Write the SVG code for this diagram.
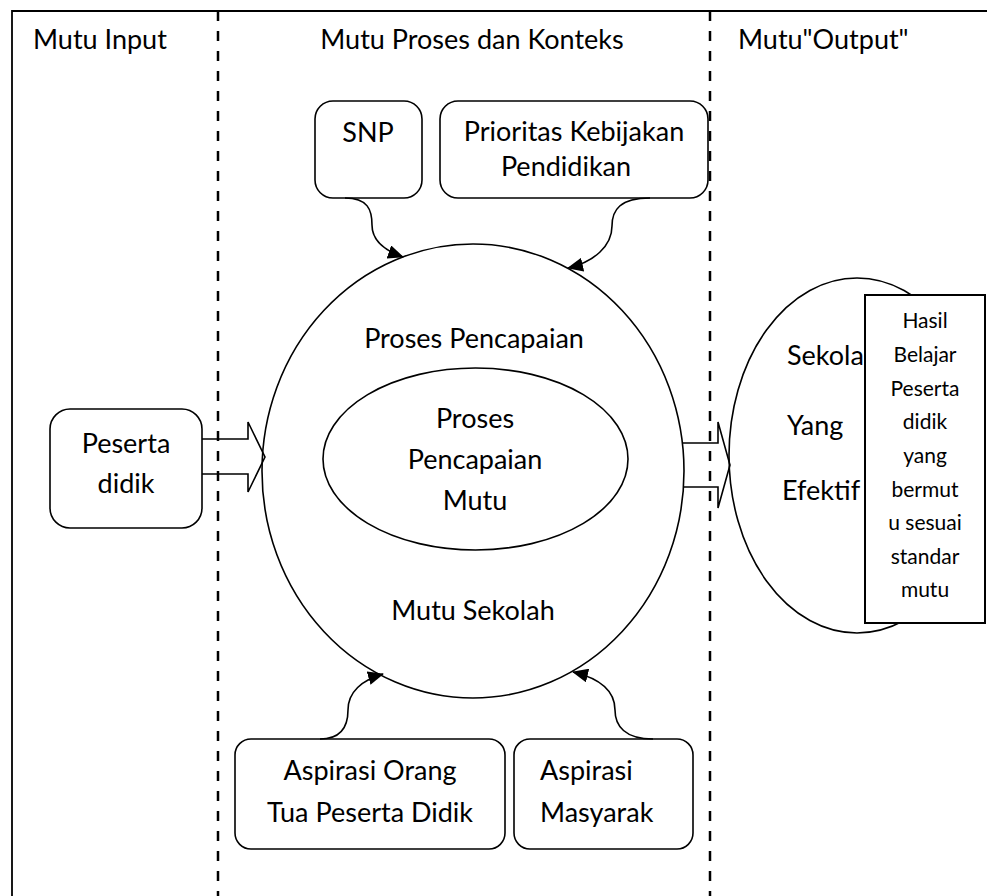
<svg xmlns="http://www.w3.org/2000/svg" width="987" height="896" viewBox="0 0 987 896">
<style>
text{font-family:Lato,"Open Sans","Liberation Sans",sans-serif;font-size:27px;fill:#000}
.c{text-anchor:middle}
.s{font-size:21px}
.box{fill:#fff;stroke:#000;stroke-width:1.6}
.shape{fill:none;stroke:#000;stroke-width:1.6}
.dash{stroke:#000;stroke-width:2.5;stroke-dasharray:10 10;fill:none}
.con{fill:none;stroke:#000;stroke-width:1.6}
</style>
<defs>
<marker id="ahb" viewBox="0 0 16 14" refX="15" refY="7" markerWidth="16" markerHeight="14" markerUnits="userSpaceOnUse" orient="auto">
<path d="M0,0 L16,7 L0,14 z" fill="#000"/>
</marker>
</defs>
<rect width="987" height="896" fill="#fff"/>
<g id="frame">
<path d="M12,896 V11 H987" fill="none" stroke="#000" stroke-width="1.8"/>
<line class="dash" x1="218" y1="11" x2="218" y2="896"/>
<line class="dash" x1="710" y1="11" x2="710" y2="896"/>
<text x="33" y="49">Mutu Input</text>
<text class="c" x="472" y="49">Mutu Proses dan Konteks</text>
<text x="738" y="49">Mutu"Output"</text>
</g>
<g id="snp">
<rect class="box" x="315" y="101" width="107" height="97" rx="18"/>
<text class="c" x="368" y="142">SNP</text>
</g>
<g id="prioritas">
<rect class="box" x="440" y="101" width="268" height="97" rx="18"/>
<text class="c" x="574" y="141">Prioritas Kebijakan</text>
<text class="c" x="566" y="176">Pendidikan</text>
</g>
<g id="proses">
<ellipse class="shape" cx="473" cy="471" rx="211" ry="227"/>
<text class="c" x="474" y="348">Proses Pencapaian</text>
<text class="c" x="473" y="620">Mutu Sekolah</text>
</g>
<g id="proses-mutu">
<ellipse class="shape" cx="475.5" cy="459" rx="152.5" ry="91"/>
<text class="c" x="475" y="428">Proses</text>
<text class="c" x="475" y="469">Pencapaian</text>
<text class="c" x="475" y="510">Mutu</text>
</g>
<g id="peserta">
<rect class="box" x="50" y="409" width="152" height="119" rx="20"/>
<text class="c" x="126" y="453">Peserta</text>
<text class="c" x="126" y="493">didik</text>
</g>
<g id="output">
<ellipse class="shape" cx="857" cy="455.5" rx="128" ry="177.5"/>
<text x="787" y="365">Sekola</text>
<text x="787" y="435">Yang</text>
<text x="782" y="500">Efektif</text>
</g>
<g id="hasil">
<rect x="865" y="295" width="120" height="328" fill="#fff" stroke="#000" stroke-width="2"/>
<text class="c s" x="925" y="328">Hasil</text>
<text class="c s" x="925" y="362">Belajar</text>
<text class="c s" x="925" y="396">Peserta</text>
<text class="c s" x="925" y="429">didik</text>
<text class="c s" x="925" y="463">yang</text>
<text class="c s" x="925" y="497">bermut</text>
<text class="c s" x="925" y="530">u sesuai</text>
<text class="c s" x="925" y="564">standar</text>
<text class="c s" x="925" y="597">mutu</text>
</g>
<g id="aspirasi-ortu">
<rect class="box" x="235" y="739" width="270" height="110" rx="16"/>
<text class="c" x="370" y="780">Aspirasi Orang</text>
<text class="c" x="370" y="822">Tua Peserta Didik</text>
</g>
<g id="aspirasi-masyarakat">
<rect class="box" x="514" y="739" width="179" height="110" rx="16"/>
<text x="540" y="780">Aspirasi</text>
<text x="540" y="822">Masyarak</text>
</g>
<g id="connectors">
<path class="con" d="M345,198 C368,198 372,210 372,225 C372,242 386,251 403,257" marker-end="url(#ahb)"/>
<path class="con" d="M650,198 C620,198 612,210 612,226 C612,246 594,262 568,268" marker-end="url(#ahb)"/>
<path class="con" d="M320,739 C342,739 348,726 348,710 C348,692 362,680 383,674" marker-end="url(#ahb)"/>
<path class="con" d="M653,739 C625,739 615,726 615,710 C615,690 598,678 573,672" marker-end="url(#ahb)"/>
<path class="con" d="M202,439 H248 V422 L265,457 L248,492 V474 H202"/>
<path class="con" d="M683,443 H718 V422 L730,465 L718,508 V487 H683"/>
</g>
</svg>
